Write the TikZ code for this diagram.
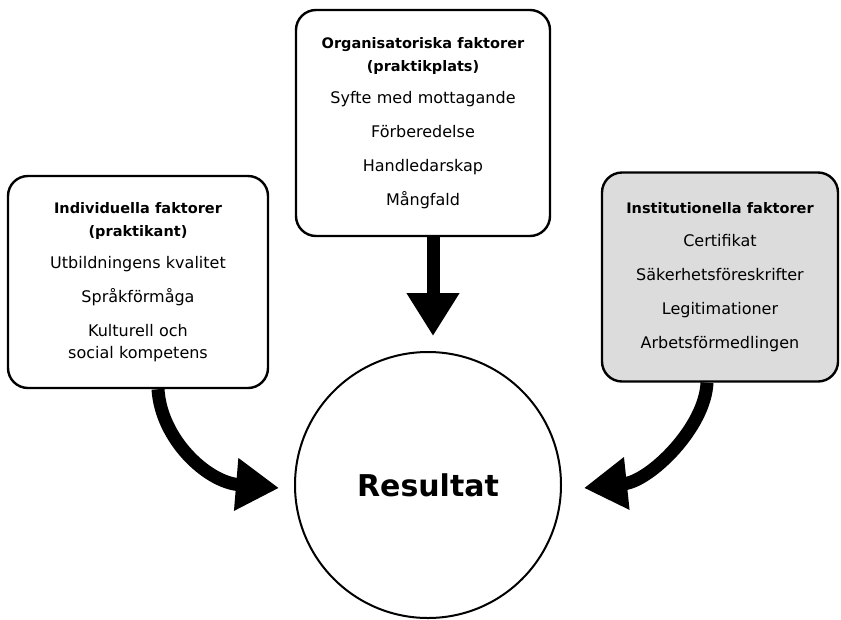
\documentclass[tikz,border=0pt]{standalone}
\usepackage{fontspec}
\setmainfont{DejaVu Sans}
\usetikzlibrary{arrows.meta}
\definecolor{boxgray}{RGB}{220,220,220}
\newcommand{\hdfont}{\fontsize{14.5}{22}\selectfont\bfseries}
\tikzset{
  factorbox/.style={draw, line width=2.4pt, rounded corners=20pt, inner sep=0pt,
    align=center, font=\fontsize{16}{22}\selectfont},
  flowarrow/.style={line width=13pt, -{Triangle[length=43pt,width=50pt]}},
}
\begin{document}
\begin{tikzpicture}[x=1pt,y=-1pt]
\useasboundingbox (0,0) rectangle (841,619);
\node[factorbox, minimum width=260pt, minimum height=212pt, text width=250pt] (left) at (138,282)
  {{\hdfont Individuella faktorer\\[1pt](praktikant)}\\[10pt]
   Utbildningens kvalitet\\[12pt]
   Språkförmåga\\[12pt]
   Kulturell och\\social kompetens};
\node[factorbox, minimum width=254pt, minimum height=226pt, text width=244pt] (top) at (423,123)
  {{\hdfont Organisatoriska faktorer\\[1pt](praktikplats)}\\[10pt]
   Syfte med mottagande\\[12pt]
   Förberedelse\\[12pt]
   Handledarskap\\[12pt]
   Mångfald};
\node[factorbox, fill=boxgray, minimum width=236pt, minimum height=209pt, text width=226pt] (right) at (720,277)
  {{\hdfont Institutionella faktorer}\\[11pt]
   Certifikat\\[12pt]
   Säkerhetsföreskrifter\\[12pt]
   Legitimationer\\[12pt]
   Arbetsförmedlingen};
\node[draw, circle, line width=2pt, minimum size=266pt, inner sep=0pt,
      font=\fontsize{30}{36}\selectfont\bfseries] (res) at (428,485) {Resultat};
\draw[flowarrow] ([xshift=10pt]top.south) -- ([xshift=5pt,yshift=15pt]res.north);
\draw[flowarrow] ([xshift=20pt]left.south) .. controls +(3,50) and +(-72,-6) .. ([xshift=-15pt,yshift=-3pt]res.west);
\draw[flowarrow] ([xshift=-13pt]right.south) .. controls +(-2,45) and +(66,-7) .. ([xshift=22pt,yshift=-3pt]res.east);
\end{tikzpicture}
\end{document}
